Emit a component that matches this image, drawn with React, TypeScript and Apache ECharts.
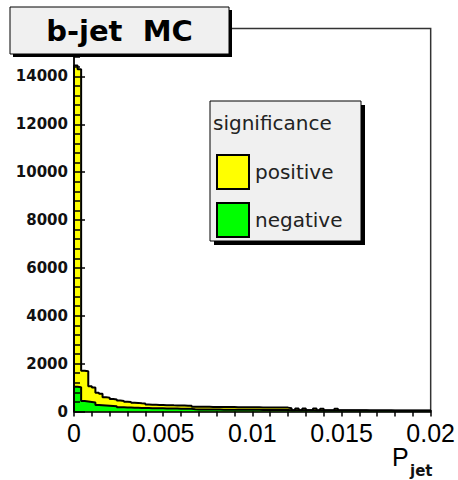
import React, { useEffect, useRef } from "react";
import * as echarts from "echarts";

// Histogram binning of P_jet
const binWidth = 0.0002;

// Counts per bin for jets with positive significance
const positiveCounts = [
  14450, 14300, 1700, 1680, 1050, 1000, 780, 740, 600, 580, 520, 500, 460, 440, 410, 400, 370, 360, 340, 330,
  290, 285, 280, 275, 270, 265, 262, 258, 255, 250, 248, 245, 240,
  200, 198, 196, 195, 194, 192, 190, 190, 188, 186, 185, 184, 182, 180, 180, 178, 176, 175, 174, 172, 170, 170, 168, 166, 165, 164, 162,
  135, 57, 130, 56, 128, 55, 54, 125, 53, 120, 52, 52, 51, 118, 50, 50, 49, 49, 48, 48, 47, 47, 46, 46, 45, 45, 45, 44, 44, 43, 43, 43, 42, 42, 42, 41, 41, 41, 40, 40,
];

// Counts per bin for jets with negative significance
const negativeCounts = [
  1030, 1010, 440, 420, 400, 380, 270, 260, 250, 240, 230, 220, 180, 175, 170, 165, 160, 155, 150, 150,
  145, 140, 140, 135, 135, 130, 130, 125, 125, 120, 120, 115, 110,
  90, 88, 86, 85, 84, 82, 80, 80, 78, 78, 76, 75, 74, 72, 72, 70, 70, 68, 68, 66, 65, 64, 63, 62, 62, 60, 60,
  52, 50, 50, 49, 48, 48, 47, 46, 46, 45, 45, 44, 44, 43, 43, 42, 42, 41, 41, 40, 40, 40, 39, 39, 38, 38, 38, 37, 37, 36, 36, 36, 35, 35, 35, 34, 34, 34, 33, 33,
];

const xMax = 0.02;
const xTickStep = 0.001;
const xLabelEvery = 5;
const yMax = 16000;
const yTickStep = 2000;
const yLastLabel = 14000;

const titleText = "b-jet  MC";
const legendTitle = "significance";
const legendNames = ["positive", "negative"];
const legendColors = ["#ffff00", "#00ff00"];

// Turn per-bin counts into a closed step outline starting and ending on the baseline
function toSteps(counts: number[]): number[][] {
  const pts: number[][] = [[0, 0]];
  counts.forEach((c, i) => pts.push([i * binWidth, c]));
  const end = counts.length * binWidth;
  pts.push([end, counts[counts.length - 1]]);
  pts.push([end, 0]);
  return pts;
}

export default function App() {
  const ref = useRef<HTMLDivElement>(null);

  useEffect(() => {
    if (!ref.current) return;
    const chart = echarts.init(ref.current, null, { renderer: "svg" });

    const histSeries = (name: string, counts: number[], color: string, z: number) => ({
      type: "line",
      name,
      data: toSteps(counts),
      step: "end",
      symbol: "none",
      z,
      lineStyle: { color: "#000", width: 2 },
      areaStyle: { color, opacity: 1 },
    });

    chart.setOption({
      animation: false,
      backgroundColor: "#ffffff",
      grid: {
        left: 74,
        right: 21,
        top: 28.5,
        bottom: 68.5,
        show: true,
        borderColor: "#333",
        borderWidth: 1.5,
        backgroundColor: "transparent",
      },
      xAxis: {
        type: "value",
        z: 10,
        min: 0,
        max: xMax,
        interval: xTickStep,
        axisLine: { show: true, lineStyle: { color: "#000", width: 1.5 } },
        axisTick: { show: true, inside: false, length: 5, lineStyle: { color: "#000", width: 1.5 } },
        axisLabel: {
          margin: 9,
          fontFamily: "Liberation Sans",
          fontSize: 25,
          color: "#000",
          formatter: (v: number) => {
            const k = Math.round(v / xTickStep);
            return k % xLabelEvery === 0 ? String(Math.round(v * 1000) / 1000) : "";
          },
        },
        splitLine: { show: false },
      },
      yAxis: {
        type: "value",
        z: 10,
        min: 0,
        max: yMax,
        interval: yTickStep,
        axisLine: { show: true, lineStyle: { color: "#000", width: 1.5 } },
        axisTick: { show: true, inside: true, length: 11, lineStyle: { color: "#000", width: 1.5 } },
        minorTick: { show: true, splitNumber: 5, length: 6, lineStyle: { color: "#000", width: 1.5 } },
        axisLabel: {
          margin: 6,
          fontFamily: "DejaVu Sans",
          fontWeight: "bold",
          fontSize: 15,
          color: "#111",
          formatter: (v: number) => (v <= yLastLabel ? String(v) : ""),
        },
        splitLine: { show: false },
      },
      series: [
        histSeries(legendNames[0], positiveCounts, legendColors[0], 2),
        histSeries(legendNames[1], negativeCounts, legendColors[1], 3),
      ],
      graphic: [
        // title box with drop shadow
        { type: "rect", z: 100, shape: { x: 13, y: 10, width: 219, height: 47 }, style: { fill: "#000" } },
        { type: "rect", z: 101, shape: { x: 10, y: 7, width: 219, height: 47 }, style: { fill: "#f0f0f0", stroke: "#000", lineWidth: 1 } },
        {
          type: "text",
          z: 102,
          x: 119.5,
          y: 31,
          style: {
            text: titleText,
            fontFamily: "DejaVu Sans",
            fontWeight: "bold",
            fontSize: 29,
            fill: "#000",
            align: "center",
            verticalAlign: "middle",
          },
        },
        // legend box with drop shadow
        { type: "rect", z: 100, shape: { x: 214, y: 105, width: 151, height: 140 }, style: { fill: "#000" } },
        { type: "rect", z: 101, shape: { x: 210, y: 101, width: 151, height: 140 }, style: { fill: "#f0f0f0", stroke: "#000", lineWidth: 1 } },
        {
          type: "text",
          z: 102,
          x: 213,
          y: 123,
          style: { text: legendTitle, fontFamily: "DejaVu Sans", fontSize: 20, fill: "#222", align: "left", verticalAlign: "middle" },
        },
        ...legendNames.flatMap((name, i) => [
          {
            type: "rect",
            z: 102,
            shape: { x: 217, y: 155 + i * 48, width: 32, height: 34 },
            style: { fill: legendColors[i], stroke: "#000", lineWidth: 2 },
          },
          {
            type: "text",
            z: 102,
            x: 255,
            y: 172 + i * 48,
            style: { text: name, fontFamily: "DejaVu Sans", fontSize: 20, fill: "#222", align: "left", verticalAlign: "middle" },
          },
        ]),
        // axis title P_jet
        {
          type: "text",
          z: 102,
          x: 392,
          y: 456.5,
          style: { text: "P", fontFamily: "Liberation Sans", fontSize: 25, fill: "#000", align: "left", verticalAlign: "middle" },
        },
        {
          type: "text",
          z: 102,
          x: 410,
          y: 471,
          style: { text: "jet", fontFamily: "DejaVu Sans", fontWeight: "bold", fontSize: 15, fill: "#111", align: "left", verticalAlign: "middle" },
        },
      ],
    });

    return () => chart.dispose();
  }, []);

  return (
    <div
      ref={ref}
      style={{ position: "absolute", left: 0, top: 0, width: 458, height: 480 }}
    />
  );
}
